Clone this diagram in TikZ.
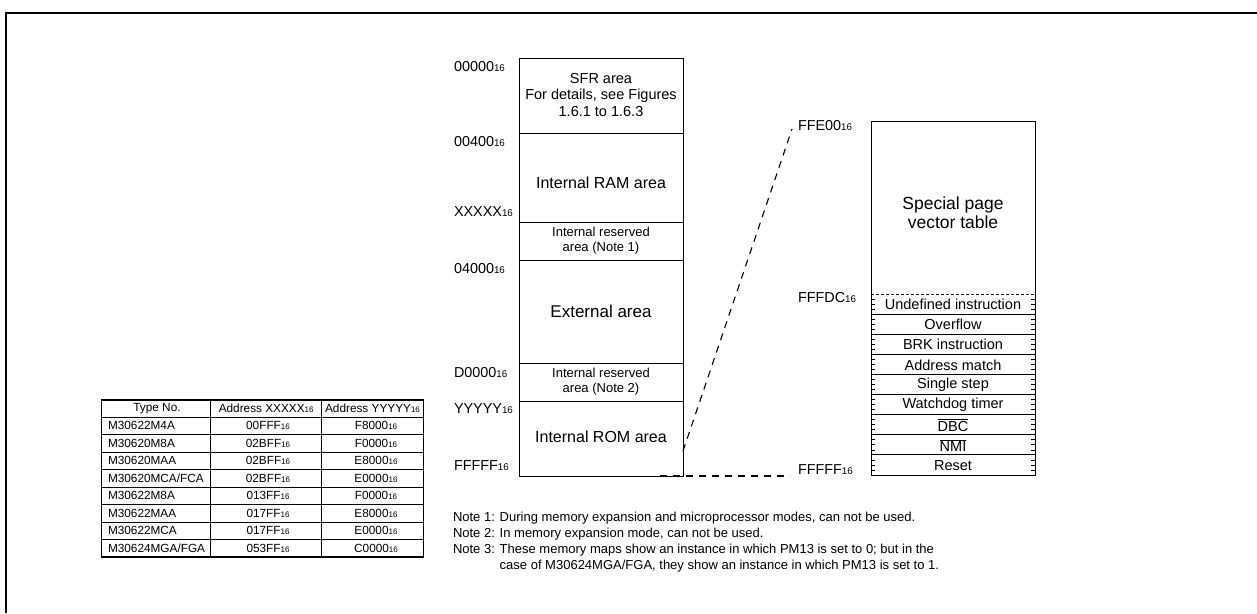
\documentclass[tikz,border=0pt]{standalone}
\usepackage{fontspec}
\setmainfont{Liberation Sans}
\newcommand{\sxt}[1]{{\fontsize{#1}{#1}\selectfont 16}}
\begin{document}
\begin{tikzpicture}[x=1pt,y=-1pt,
  every node/.style={inner sep=0pt,outer sep=0pt},
  addr/.style={anchor=west,font=\fontsize{14.4}{14.4}\selectfont},
  sfrtext/.style={align=center,font=\fontsize{14.5}{16.3}\selectfont},
  bigtext/.style={align=center,font=\fontsize{16}{18}\selectfont},
  restext/.style={align=center,font=\fontsize{13}{15}\selectfont},
  vectext/.style={font=\fontsize{14.5}{16}\selectfont},
  tabtext/.style={font=\fontsize{11.8}{12}\selectfont},
  notetext/.style={anchor=base west,font=\fontsize{13}{15}\selectfont},
  mapline/.style={line width=1pt},
  guide/.style={line width=1.1pt,dash pattern=on 7pt off 6pt}]
\useasboundingbox (0,0) rectangle (1257,613);
% frame
\draw[line width=2pt] (6,613) -- (6,13) -- (1257,13);

% ---------- memory map ----------
\draw[mapline] (519,58) rectangle (683,476);
\foreach \yy in {133,222,260,363,401} \draw[mapline] (519,\yy) -- (683,\yy);
\node[sfrtext] (sfr) at (601,95) {SFR area\\For details, see Figures\\1.6.1 to 1.6.3};
\node[bigtext] (ram) at (601,183) {Internal RAM area};
\node[restext] (res1) at (601,241) {Internal reserved\\area (Note 1)};
\node[bigtext,font=\fontsize{17}{19}\selectfont] (ext) at (601,311) {External area};
\node[restext] (res2) at (601,382) {Internal reserved\\area (Note 2)};
\node[bigtext] (rom) at (601,437) {Internal ROM area};

\node[addr] (a0) at (454,67) {00000\sxt{9.8}};
\node[addr] (a1) at (454,142) {00400\sxt{9.8}};
\node[addr] (a2) at (454,212) {XXXXX\sxt{9.8}};
\node[addr] (a3) at (454,269) {04000\sxt{9.8}};
\node[addr] (a4) at (454,373) {D0000\sxt{9.8}};
\node[addr] (a5) at (454,409) {YYYYY\sxt{9.8}};
\node[addr] (a6) at (454,466) {FFFFF\sxt{9.8}};

% ---------- vector table ----------
\draw[mapline] (871,121) rectangle (1035,475);
\draw[line width=0.8pt,dash pattern=on 3pt off 2pt] (871,294) -- (1035,294);
\node[align=center,font=\fontsize{17.5}{19}\selectfont] (spv) at (953,213) {Special page\\vector table};
\foreach \lab [count=\i from 0] in {Undefined instruction,Overflow,BRK instruction,Address match,Single step,Watchdog timer,$\overline{\mbox{DBC}}$,$\overline{\mbox{NMI}}$,Reset}{
  \pgfmathsetmacro{\ytop}{294+20.11*\i}
  \ifnum\i>0 \draw[mapline] (871,\ytop) -- (1035,\ytop);\fi
  \foreach \k in {1,2,3}{
    \draw[line width=0.7pt] (871,\ytop+5.03*\k) -- (875,\ytop+5.03*\k);
    \draw[line width=0.7pt] (1031,\ytop+5.03*\k) -- (1035,\ytop+5.03*\k);
  }
  \node[vectext] (v\i) at (953,\ytop+10.5) {\lab};
}
\node[addr] (b0) at (798,126) {FFE00\sxt{9.8}};
\node[addr] (b1) at (798,298) {FFFDC\sxt{9.8}};
\node[addr] (b2) at (798,470) {FFFFF\sxt{9.8}};

% ---------- guide lines ----------
\coordinate (romr) at (683,451);
\coordinate (vtop) at (792,129);
\coordinate (romb) at (660,476);
\coordinate (vbot) at (790,476);
\draw[guide] (romr) -- (vtop);
\draw[guide] (romb) -- (vbot);

% ---------- table ----------
\draw[line width=1.2pt] (101.7,400) rectangle (423.3,557);
\draw[line width=0.8pt] (210.7,400) -- (210.7,557);
\draw[line width=0.8pt] (321.7,400) -- (321.7,557);
\draw[line width=0.8pt] (101.7,417) -- (423.3,417);
\node[tabtext] (h1) at (157,408.5) {Type No.};
\node[tabtext] (h2) at (266.2,408.5) {Address XXXXX\sxt{8}};
\node[tabtext] (h3) at (372.5,408.5) {Address YYYYY\sxt{8}};
\foreach \ta/\tb/\tc [count=\i] in {M30622M4A/00FFF/F8000,M30620M8A/02BFF/F0000,M30620MAA/02BFF/E8000,M30620MCA\slash FCA/02BFF/E0000,M30622M8A/013FF/F0000,M30622MAA/017FF/E8000,M30622MCA/017FF/E0000,M30624MGA\slash FGA/053FF/C0000}{
  \pgfmathsetmacro{\yb}{417+17.5*\i}
  \ifnum\i<8 \draw[line width=0.8pt] (101.7,\yb) -- (423.3,\yb);\fi
  \node[tabtext,anchor=west] (r\i a) at (108,\yb-8.75) {\ta};
  \node[tabtext] (r\i b) at (268,\yb-8.75) {\tb\sxt{8}};
  \node[tabtext] (r\i c) at (376,\yb-8.75) {\tc\sxt{8}};
}

% ---------- notes ----------
\node[notetext] (n1) at (453,521) {Note 1: During memory expansion and microprocessor modes, can not be used.};
\node[notetext] (n2) at (453,537) {Note 2: In memory expansion mode, can not be used.};
\node[notetext] (n3) at (453,553) {Note 3: These memory maps show an instance in which PM13 is set to 0; but in the};
\node[notetext] (n4) at (453,569) {\phantom{Note 3: }case of M30624MGA/FGA, they show an instance in which PM13 is set to 1.};
\end{tikzpicture}
\end{document}
